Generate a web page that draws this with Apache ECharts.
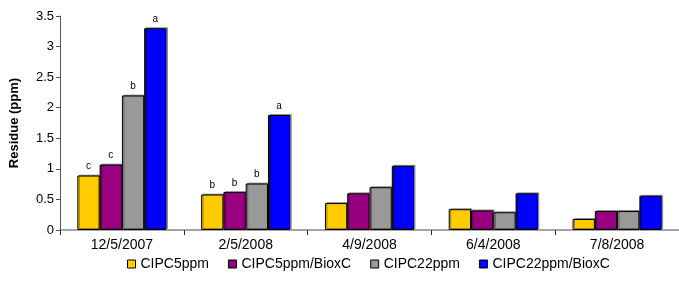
<!DOCTYPE html>
<html><head><meta charset="utf-8">
<script src="https://cdn.jsdelivr.net/npm/echarts@6/dist/echarts.min.js"></script>
<style>html,body{margin:0;padding:0;background:#fff}#c{width:679px;height:296px}</style>
</head><body><div id="c"></div>
<script>
const categories = ['12/5/2007','2/5/2008','4/9/2008','6/4/2008','7/8/2008'];
const seriesNames = ['CIPC5ppm','CIPC5ppm/BioxC','CIPC22ppm','CIPC22ppm/BioxC'];
const cipc5 = [0.89, 0.58, 0.44, 0.34, 0.18];
const cipc5Biox = [1.07, 0.62, 0.60, 0.32, 0.31];
const cipc22 = [2.20, 0.76, 0.70, 0.29, 0.31];
const cipc22Biox = [3.30, 1.88, 1.05, 0.60, 0.56];
const letters5 = ['c','b','','',''];
const letters5Biox = ['c','b','','',''];
const letters22 = ['b','b','','',''];
const letters22Biox = ['a','a','','',''];
const yTicks = [0, 0.5, 1, 1.5, 2, 2.5, 3, 3.5];
const colors = ['#FFCC00','#990080','#999999','#0000FF'];

const values = [cipc5, cipc5Biox, cipc22, cipc22Biox];
const letters = [letters5, letters5Biox, letters22, letters22Biox];
const font = 'Liberation Sans, Arial, sans-serif';

const chart = echarts.init(document.getElementById('c'));
chart.setOption({
  animation: false,
  grid: {left: 60, right: 0, top: 16, bottom: 66},
  legend: {
    top: 252, left: 122, itemWidth: 8, itemHeight: 8, itemGap: 19,
    icon: 'rect',
    textStyle: {fontFamily: font, fontSize: 14, color: '#000'},
    data: seriesNames.map((n, i) => ({name: n, itemStyle: {color: colors[i], borderColor: '#000', borderWidth: 1}}))
  },
  xAxis: {
    type: 'category', data: categories,
    axisLine: {lineStyle: {color: '#888', width: 1.5}},
    axisTick: {show: true, length: 5, lineStyle: {color: '#333'}},
    axisLabel: {fontFamily: font, fontSize: 14, color: '#000', margin: 8}
  },
  yAxis: {
    type: 'value', min: yTicks[0], max: yTicks[yTicks.length-1], interval: 0.5,
    name: 'Residue (ppm)', nameLocation: 'middle', nameGap: 39,
    nameTextStyle: {fontFamily: font, fontSize: 13, fontWeight: 'bold', color: '#000'},
    splitLine: {show: false},
    axisLine: {show: true, lineStyle: {color: '#555'}},
    axisTick: {show: true, length: 4, lineStyle: {color: '#555'}},
    axisLabel: {fontFamily: font, fontSize: 13, color: '#000', margin: 6}
  },
  series: seriesNames.map((n, i) => ({
    name: n, type: 'bar', barGap: '0%', barCategoryGap: '28%',
    data: values[i].map((v, j) => ({value: v, label: {show: letters[i][j] !== '', formatter: letters[i][j]}})),
    itemStyle: {color: colors[i], borderColor: '#000', borderWidth: 1,
      shadowColor: 'rgba(0,0,0,0.35)', shadowOffsetX: 1.5, shadowOffsetY: -1},
    label: {position: 'top', distance: 4, fontFamily: font, fontSize: 10, color: '#000'}
  }))
});
</script></body></html>
